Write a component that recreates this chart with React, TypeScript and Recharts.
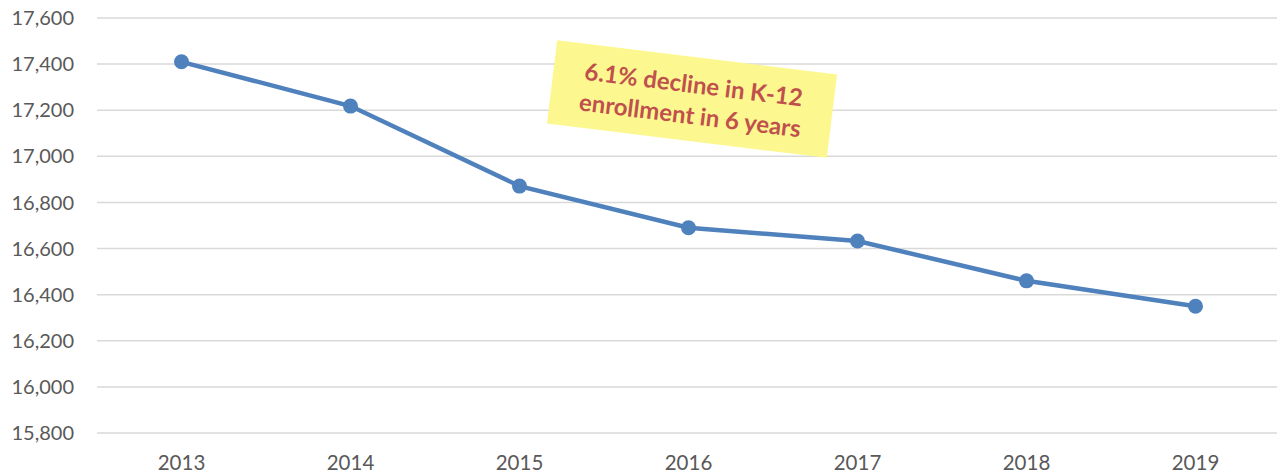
import { LineChart, Line, XAxis, YAxis, CartesianGrid } from 'recharts'

const years = ['2013', '2014', '2015', '2016', '2017', '2018', '2019']
const enrollment = [17410, 17218, 16871, 16690, 16633, 16460, 16350]
const yTicks = [15800, 16000, 16200, 16400, 16600, 16800, 17000, 17200, 17400, 17600]

const data = years.map((year, i) => ({ year, enrollment: enrollment[i] }))

const LINE_COLOR = '#4F81BD'
const TEXT_GRAY = '#595959'

export default function App() {
  return (
    <div style={{ position: 'absolute', left: 0, top: 0, width: 1277, height: 476, overflow: 'hidden', background: '#fff' }}>
      <LineChart
        width={1280}
        height={476}
        data={data}
        margin={{ top: 18, right: 0, bottom: 0, left: 0 }}
      >
        <CartesianGrid vertical={false} stroke="#D9D9D9" strokeWidth={1.5} />
        <XAxis
          dataKey="year"
          axisLine={false}
          tickLine={false}
          tickSize={0}
          tickMargin={22}
          height={43}
          padding={{ left: 84.5, right: 84.5 }}
          tick={{ fill: TEXT_GRAY, fontSize: 20.5, fontFamily: 'Lato' }}
        />
        <YAxis
          domain={[15800, 17600]}
          ticks={yTicks}
          axisLine={false}
          tickLine={false}
          tickSize={0}
          tickMargin={23}
          width={97}
          tickFormatter={v => v.toLocaleString('en-US')}
          tick={{ fill: TEXT_GRAY, fontSize: 20, fontFamily: 'Lato' }}
        />
        <Line
          dataKey="enrollment"
          stroke={LINE_COLOR}
          strokeWidth={4.5}
          dot={{ r: 7.5, fill: LINE_COLOR, stroke: LINE_COLOR, strokeWidth: 0 }}
          activeDot={false}
          isAnimationActive={false}
        />
      </LineChart>
      <div
        style={{
          position: 'absolute',
          left: 692 - 141,
          top: 99 - 42,
          width: 282,
          height: 84,
          background: '#FCF88F',
          transform: 'rotate(7deg)',
          display: 'flex',
          alignItems: 'center',
          justifyContent: 'center',
          textAlign: 'center',
          color: '#C0504D',
          fontFamily: 'Lato',
          fontWeight: 700,
          fontSize: 24,
          lineHeight: '31px',
        }}
      >
        6.1% decline in K-12<br />enrollment in 6 years
      </div>
    </div>
  )
}
